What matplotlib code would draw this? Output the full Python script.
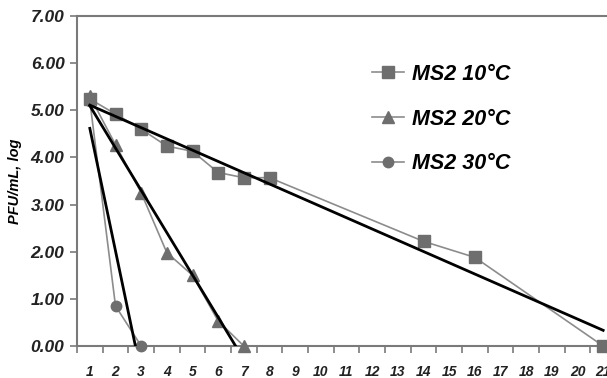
import numpy as np
import matplotlib
matplotlib.use("Agg")
import matplotlib.pyplot as plt

plt.rcParams['font.family'] = ['Liberation Sans', 'DejaVu Sans']

# data
x10 = [1, 2, 3, 4, 5, 6, 7, 8, 14, 16, 21]
y10 = [5.24, 4.92, 4.60, 4.24, 4.13, 3.68, 3.57, 3.57, 2.22, 1.88, 0.00]
x20 = [1, 2, 3, 4, 5, 6, 7]
y20 = [5.30, 4.27, 3.25, 1.98, 1.50, 0.53, 0.00]
x30 = [1, 2, 3]
y30 = [5.20, 0.85, 0.00]
labels = ["MS2 10°C", "MS2 20°C", "MS2 30°C"]
categories = list(range(1, 22))
yticks = [0, 1, 2, 3, 4, 5, 6, 7]

fig = plt.figure(figsize=(6.07, 3.78), dpi=100)
ax = fig.add_axes([77/607, 1-346/378, (616-77)/607, (346-16)/378])

gray = '#7a7a7a'
mk = '#6e6e6e'
series = [(x10, y10, 's', 8.5), (x20, y20, '^', 8.5), (x30, y30, 'o', 7.5)]
for (xs, ys, m, ms), lab in zip(series, labels):
    ax.plot(xs, ys, color='#8c8c8c', lw=1.2, marker=m, ms=ms,
            mfc=mk, mec=mk, label=lab, zorder=3, clip_on=False)

for xs, ys, _, _ in series:
    p = np.polyfit(xs, ys, 1)
    xx = np.array([xs[0], xs[-1]], dtype=float)
    ax.plot(xx, np.polyval(p, xx), color='black', lw=2.0, zorder=4)

ax.set_xlim(0.5, 21.5)
ax.set_ylim(0, 7)
ax.set_yticks(yticks)
ax.set_yticklabels([f"{v:.2f}" for v in yticks], fontsize=12.5,
                   fontweight='bold', style='italic', color='#222222')
ax.set_xticks(categories)
ax.set_xticklabels([str(c) for c in categories], fontsize=10,
                   fontweight='bold', style='italic', color='#222222')
ax.set_xticks(np.arange(0.5, 21.6, 1), minor=True)
ax.tick_params(axis='x', which='major', length=0, pad=14)
ax.tick_params(axis='x', which='minor', length=5, width=1.2, color=gray, direction='out')
ax.tick_params(axis='y', which='major', length=5, width=1.2, color=gray, direction='out', pad=4)

for s in ['left', 'bottom', 'top', 'right']:
    ax.spines[s].set_color(gray)
    ax.spines[s].set_linewidth(1.5)

ax.set_ylabel("PFU/mL, log", fontsize=10.5, fontweight='bold', style='italic', labelpad=6)

leg = ax.legend(loc='upper left', bbox_to_anchor=(0.547, 0.855), frameon=False,
                prop={'size': 15.5, 'weight': 'bold', 'style': 'italic'},
                labelspacing=1.1, handlelength=1.5, handletextpad=0.35,
                borderpad=0, borderaxespad=0)

fig.savefig("out.png", dpi=100)
